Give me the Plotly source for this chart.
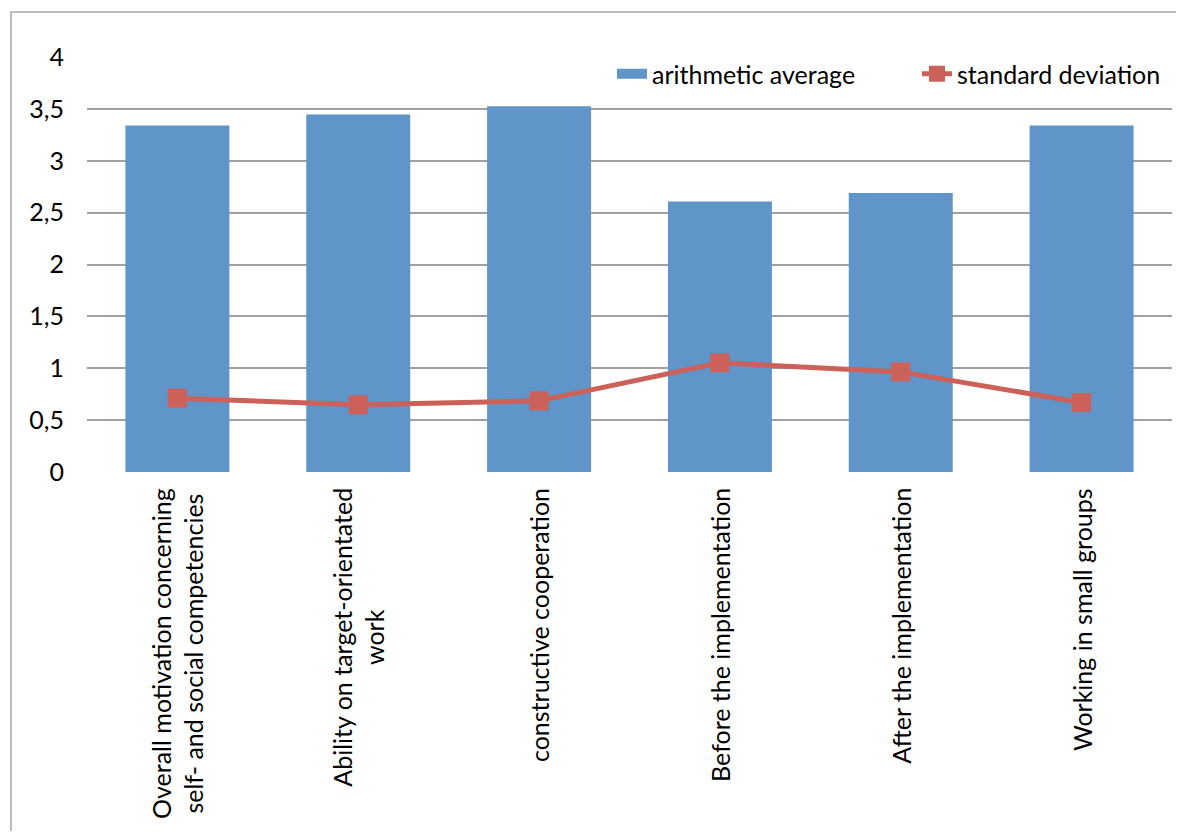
import plotly.graph_objects as go

categories = [
    "Overall motivation concerning self- and social competencies",
    "Ability on target-orientated work",
    "constructive cooperation",
    "Before the implementation",
    "After the implementation",
    "Working in small groups",
]
tick_labels = [
    "Overall motivation concerning<br>self- and social competencies",
    "Ability on target-orientated<br>work",
    "constructive cooperation",
    "Before the implementation",
    "After the implementation",
    "Working in small groups",
]
arithmetic_average = [3.34, 3.445, 3.525, 2.608, 2.688, 3.34]
standard_deviation = [0.712, 0.648, 0.686, 1.052, 0.965, 0.670]
y_ticks = [0, 0.5, 1, 1.5, 2, 2.5, 3, 3.5, 4]

FONT = "Lato"
BAR_COLOR = "#5f95c8"
LINE_COLOR = "#cc6159"
W, H = 1168, 823
ML, MR, MT, MB = 79, 4, 49, 359
PW = W - ML - MR
PH = H - MT - MB

fig = go.Figure()
fig.add_trace(go.Bar(
    x=categories, y=arithmetic_average, name="arithmetic average",
    marker=dict(color=BAR_COLOR, line=dict(width=0)), showlegend=False,
))
# legend entry for the bars drawn as a wide block (no data drawn)
fig.add_trace(go.Scatter(
    x=[None], y=[None], name="arithmetic average", mode="lines",
    line=dict(color=BAR_COLOR, width=15), hoverinfo="skip", legend="legend",
))
fig.add_trace(go.Scatter(
    x=categories, y=standard_deviation, name="standard deviation",
    mode="lines+markers",
    line=dict(color=LINE_COLOR, width=5),
    marker=dict(symbol="square", size=19, color=LINE_COLOR),
    legend="legend2",
))

for cat, lab in zip(categories, tick_labels):
    fig.add_annotation(
        x=cat, y=0, xref="x", yref="paper", text=lab, showarrow=False,
        textangle=-90, xanchor="center", yanchor="top", yshift=-14,
        align="center", font=dict(family=FONT, size=25, color="black"),
    )

# outer chart frame (extends past the right/bottom edges like the reference)
fig.add_shape(
    type="rect", xref="paper", yref="paper",
    x0=(3 - ML) / PW, x1=(W + 30 - ML) / PW,
    y0=(H - MB - (H + 30)) / PH, y1=(H - MB - 4) / PH,
    line=dict(color="#a6a6a6", width=1.5), fillcolor="rgba(0,0,0,0)", layer="below",
)

legend_y = (PH - (66 - MT)) / PH
legend_common = dict(
    orientation="h", y=legend_y, xanchor="left", yanchor="middle",
    font=dict(family=FONT, size=25, color="black"),
    bgcolor="rgba(0,0,0,0)", itemwidth=30,
)

fig.update_layout(
    width=W, height=H,
    margin=dict(l=ML, r=MR, t=MT, b=MB),
    paper_bgcolor="white", plot_bgcolor="white",
    separators=",.",
    bargap=0.425,
    font=dict(family=FONT, size=25, color="black"),
    showlegend=True,
    legend=dict(x=(604 - ML) / PW, **legend_common),
    legend2=dict(x=(909 - ML) / PW, **legend_common),
    xaxis=dict(
        showticklabels=False, showgrid=False, showline=False, ticks="",
        zeroline=False,
    ),
    yaxis=dict(
        range=[0, 4], tickvals=y_ticks, showgrid=True, gridcolor="#a0a0a0",
        gridwidth=1.5, zeroline=False, showline=False, ticks="",
        ticklabelstandoff=22,
        tickfont=dict(family=FONT, size=25, color="black"),
    ),
)

fig.write_html("out.html")
